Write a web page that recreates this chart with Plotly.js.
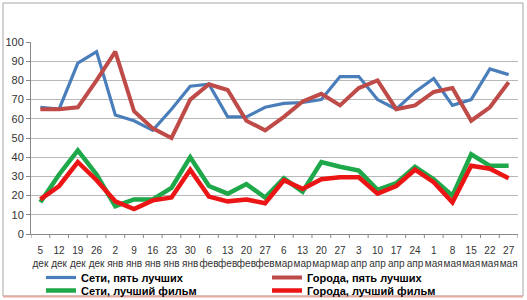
<!DOCTYPE html>
<html>
<head>
<meta charset="utf-8">
<script src="https://cdn.plot.ly/plotly-3.0.1.min.js"></script>
<style>html,body{margin:0;padding:0;background:#fff;}#chart{width:527px;height:300px;}</style>
</head>
<body>
<div id="chart"></div>
<script>
const days = ["5","12","19","26","2","9","16","23","30","6","13","20","27","6","13","20","27","3","10","17","24","1","8","15","22","27"];
const months = ["дек","дек","дек","дек","янв","янв","янв","янв","янв","фев","фев","фев","фев","мар","мар","мар","мар","апр","апр","апр","апр","мая","мая","мая","мая","мая"];
const netTop5 = [66, 65, 89, 95, 62, 59, 54, 65, 77, 78, 61, 61, 66, 68, 68.5, 70, 82, 82, 70, 65, 74, 81, 67, 70, 86, 83];
const cityTop5 = [65, 65, 66, 80, 95, 64, 55, 50, 70, 78, 75, 59, 54, 61, 69, 73, 67, 76, 80, 65, 67, 74, 76, 59, 66, 79];
const netBest = [16.5, 31, 43.5, 31, 14.5, 18, 18, 24, 40, 25, 21, 26, 19, 29, 22, 37.5, 35, 33, 23, 26.5, 35, 28.5, 20, 41.5, 35.5, 35.5];
const cityBest = [18, 25, 37.5, 28, 17, 13, 17.5, 19, 33.5, 19.5, 17, 18, 16, 28, 23.5, 28.5, 29.5, 29.5, 21, 25, 33.5, 27, 16.5, 35.5, 34, 29];
const names = ["Сети, пять лучших", "Города, пять лучших", "Сети, лучший фильм", "Города, лучший фильм"];

const idx = days.map((d, i) => i);
const tickText = days.map((d, i) => d + "<br>" + months[i]);

function tr(y, name, color, width, legend) {
  return {x: idx, y: y, name: name, type: "scatter", mode: "lines", legend: legend,
          line: {color: color, width: width}, hoverinfo: "skip"};
}
const data = [
  tr(netTop5, names[0], "#4a7ebb", 3.2, "legend"),
  tr(cityTop5, names[1], "#be4b48", 4, "legend"),
  tr(netBest, names[2], "#1fa84a", 4.5, "legend2"),
  tr(cityBest, names[3], "#ec1515", 4.5, "legend2")
];

const W = 527, H = 300;
const L = 31, R = 518, T = 42, B = 234;
const pw = R - L, ph = B - T;
const px = v => (v - L) / pw;
const py = v => (B - v) / ph;

function leg(topPx) {
  return {
    orientation: "h", xref: "container", yref: "container",
    x: 41 / W, xanchor: "left", y: 1 - topPx / H, yanchor: "top",
    font: {size: 11, color: "#000", weight: "bold"}, entrywidth: 181, entrywidthmode: "pixels",
    tracegroupgap: 0, bgcolor: "rgba(0,0,0,0)", traceorder: "normal"
  };
}

const layout = {
  width: W, height: H,
  margin: {l: L, r: W - R, t: T, b: H - B, pad: 0},
  paper_bgcolor: "#ffffff", plot_bgcolor: "#ffffff",
  font: {family: "Liberation Sans, Arial, sans-serif", size: 10, color: "#333"},
  showlegend: true,
  xaxis: {
    type: "linear", range: [-0.5, 25.5], tickmode: "array",
    tickvals: idx, ticktext: tickText, tickangle: 0, ticklabelstandoff: 7,
    showgrid: false, zeroline: false, showline: true, linecolor: "#888", linewidth: 1,
    ticks: "", tickfont: {size: 10, color: "#333"}, fixedrange: true, automargin: false
  },
  yaxis: {
    range: [0, 100], dtick: 10, tick0: 0, showgrid: true, gridcolor: "#b8b8b8", gridwidth: 1,
    zeroline: false, showline: true, linecolor: "#888", linewidth: 1,
    ticks: "outside", ticklen: 4, tickcolor: "#888", tickfont: {size: 11, color: "#333"},
    fixedrange: true, automargin: false
  },
  legend: leg(263),
  legend2: leg(276),
  shapes: [
    {type: "rect", xref: "paper", yref: "paper", x0: px(3), x1: px(523), y0: py(296), y1: py(3),
     line: {color: "#a6a6a6", width: 1}, layer: "below"},
    {type: "line", xref: "paper", yref: "paper", x0: px(3), x1: px(523), y0: py(296.5), y1: py(296.5),
     line: {color: "#e5aaa0", width: 2}}
  ]
};

for (let i = 0; i <= days.length; i++) {
  layout.shapes.push({type: "line", xref: "x", yref: "paper", x0: i - 0.5, x1: i - 0.5,
    y0: 0, y1: -4 / ph, line: {color: "#888", width: 1}});
}

Plotly.newPlot("chart", data, layout, {displayModeBar: false, staticPlot: true});
</script>
</body>
</html>
